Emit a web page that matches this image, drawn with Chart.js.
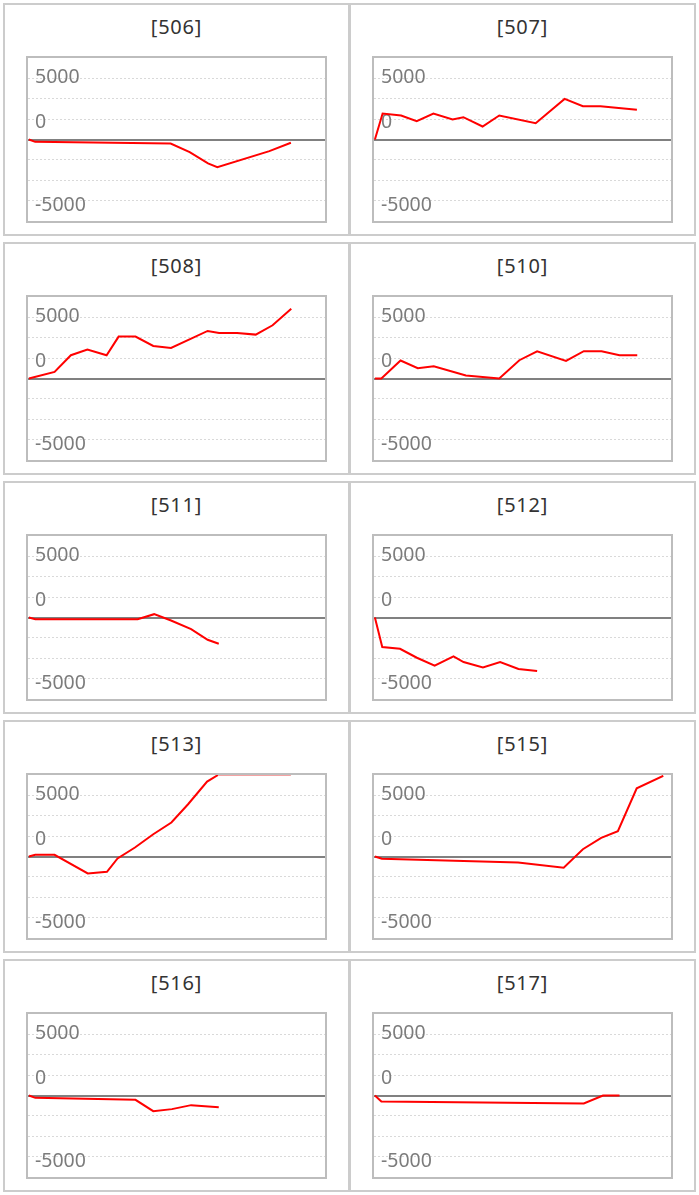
<!DOCTYPE html>
<html>
<head>
<meta charset="utf-8">
<script src="https://cdn.jsdelivr.net/npm/chart.js@4.4.1/dist/chart.umd.min.js"></script>
<style>
  html, body { margin: 0; padding: 0; background: #ffffff; }
  body { width: 699px; height: 1195px; position: relative; overflow: hidden;
         font-family: "Segoe UI", "Noto Sans", "Liberation Sans", sans-serif; }
  .panel { position: absolute; width: 347px; height: 233px; box-sizing: border-box;
           border: 2px solid #cccccc; background: #fff; }
  .title { position: absolute; left: 0; right: 0; top: 10px; height: 24px; line-height: 24px;
           text-align: center; font-size: 20px; letter-spacing: 0.8px; color: #333333; }
  .plot { position: absolute; left: 21px; top: 51px; width: 301px; height: 167px; }
  .plot canvas { display: block; }
</style>
</head>
<body>
<script>
// ---- data (x = day index, y = value) ----
const panelTitles = ['[506]', '[507]', '[508]', '[510]', '[511]', '[512]', '[513]', '[515]', '[516]', '[517]'];

const x506 = [0, 0.35, 7.9, 8.96, 9.98, 10.5, 13.4, 14.6];
const y506 = [0, -190, -330, -1035, -1960, -2260, -955, -270];

const x507 = [0, 0.43, 1.46, 2.33, 3.26, 4.33, 4.93, 6.0, 6.93, 8.96, 10.57, 11.59, 12.57, 14.6];
const y507 = [0, 2124, 1961, 1498, 2124, 1634, 1824, 1062, 1961, 1334, 3322, 2724, 2724, 2424];

const x508 = [0, 1.43, 2.34, 3.26, 4.33, 5.0, 5.94, 6.93, 7.92, 9.04, 9.96, 10.6, 11.6, 12.64, 13.58, 14.62];
const y508 = [0, 544, 1904, 2366, 1904, 3427, 3427, 2666, 2502, 3264, 3890, 3726, 3726, 3590, 4352, 5700];

const x510 = [0, 0.36, 1.43, 2.39, 3.28, 5.07, 6.93, 8.05, 9.04, 10.65, 11.64, 12.63, 13.63, 14.62];
const y510 = [0, 0, 1469, 843, 1006, 245, 0, 1496, 2230, 1442, 2230, 2230, 1904, 1904];

const x511 = [0, 0.36, 6.06, 6.98, 7.92, 9.04, 9.96, 10.58];
const y511 = [0, -136, -136, 272, -245, -952, -1822, -2149];

const x512 = [0, 0.41, 1.4, 2.34, 3.33, 4.38, 4.94, 6.02, 6.98, 8.0, 9.04];
const y512 = [0, -2421, -2557, -3291, -3944, -3182, -3645, -4080, -3645, -4216, -4379];

const x513 = [0, 0.35, 1.43, 3.28, 4.35, 4.94, 5.91, 6.93, 7.94, 8.87, 9.93, 10.54, 14.6];
const y513 = [0, 136, 136, -1389, -1253, -163, 735, 1824, 2778, 4275, 6128, 6666.67, 6666.67];

const x515 = [0, 0.39, 7.98, 10.52, 11.59, 12.61, 13.54, 14.59, 16.07];
const y515 = [0, -190, -490, -926, 599, 1524, 2070, 5583, 6600];

const x516 = [0, 0.36, 5.94, 6.93, 7.97, 9.04, 10.58];
const y516 = [0, -190, -354, -1278, -1115, -789, -952];

const x517 = [0, 0.36, 11.64, 12.71, 13.63];
const y517 = [0, -490, -653, 0, 0];

// dashed grid values, and the y-axis tick labels with the heights they sit at in the picture
const yGridValues = [-5000, -3333.33, -1666.67, 0, 1666.67, 3333.33, 5000];
const yTickLabels = ['5000', '0', '-5000'];
const yTickLabelAt = [5104, 1358, -5391];
const yMin = -6666.67, yMax = 6666.67;
const xMin = -0.05, xMax = 16.5;

const seriesX = [x506, x507, x508, x510, x511, x512, x513, x515, x516, x517];
const seriesY = [y506, y507, y508, y510, y511, y512, y513, y515, y516, y517];

// ---- layout ----
const colLeft = [3, 349];
const rowTop = [3, 242, 481, 720, 959];

const boxPlugin = {
  id: 'plotBox',
  beforeDatasetsDraw(chart) {
    const a = chart.chartArea, ctx = chart.ctx;
    ctx.save();
    ctx.strokeStyle = '#bdbdbd';
    ctx.lineWidth = 2;
    ctx.strokeRect(a.left - 1, a.top - 1, a.right - a.left + 2, a.bottom - a.top + 2);
    ctx.restore();
  }
};

const fontFam = '"Segoe UI", "Noto Sans", "Liberation Sans", sans-serif';
const zeroW = (s) => { s.width = 0; s.paddingTop = 0; s.paddingBottom = 0; s.paddingLeft = 0; s.paddingRight = 0; };

panelTitles.forEach((t, i) => {
  const panel = document.createElement('div');
  panel.className = 'panel';
  panel.style.left = colLeft[i % 2] + 'px';
  panel.style.top = rowTop[Math.floor(i / 2)] + 'px';
  const title = document.createElement('div');
  title.className = 'title';
  title.textContent = t;
  panel.appendChild(title);
  const plot = document.createElement('div');
  plot.className = 'plot';
  const canvas = document.createElement('canvas');
  canvas.width = 301; canvas.height = 167;
  canvas.style.width = '301px'; canvas.style.height = '167px';
  plot.appendChild(canvas);
  panel.appendChild(plot);
  document.body.appendChild(panel);

  const pts = seriesX[i].map((x, k) => ({ x: x, y: seriesY[i][k] }));

  new Chart(canvas.getContext('2d'), {
    type: 'line',
    data: { datasets: [{ data: pts, borderColor: '#ff0000', borderWidth: 2,
                         pointRadius: 0, tension: 0, fill: false,
                         segment: { borderColor: (c) => (c.p0.parsed.y >= yMax - 1 && c.p1.parsed.y >= yMax - 1) ? '#f4a3a3' : undefined } }] },
    plugins: [boxPlugin],
    options: {
      responsive: false, animation: false, devicePixelRatio: 1,
      layout: { padding: 2, autoPadding: false },
      plugins: { legend: { display: false }, tooltip: { enabled: false } },
      scales: {
        x: { type: 'linear', min: xMin, max: xMax, display: false },
        y: {
          type: 'linear', min: yMin, max: yMax, position: 'left',
          afterBuildTicks: (s) => { s.ticks = yGridValues.map(v => ({ value: v })); },
          afterFit: zeroW,
          ticks: { display: false, autoSkip: false },
          grid: {
            drawTicks: false,
            color: (c) => (c.tick && c.tick.value === 0) ? '#808080' : '#d9d9d9',
            lineWidth: (c) => (c.tick && c.tick.value === 0) ? 2 : 1
          },
          border: { display: false, dash: (c) => (c.tick && c.tick.value === 0) ? [] : [2, 2] }
        },
        yl: {
          type: 'linear', min: yMin, max: yMax, position: 'left',
          afterBuildTicks: (s) => { s.ticks = yTickLabelAt.map(v => ({ value: v })); },
          afterFit: zeroW,
          grid: { display: false, drawTicks: false },
          border: { display: false },
          ticks: {
            mirror: true, padding: 7, color: '#7c7c7c', autoSkip: false,
            font: { family: fontFam, size: 19.5 },
            callback: (v, idx) => yTickLabels[idx]
          }
        }
      }
    }
  });
});
</script>
</body>
</html>
